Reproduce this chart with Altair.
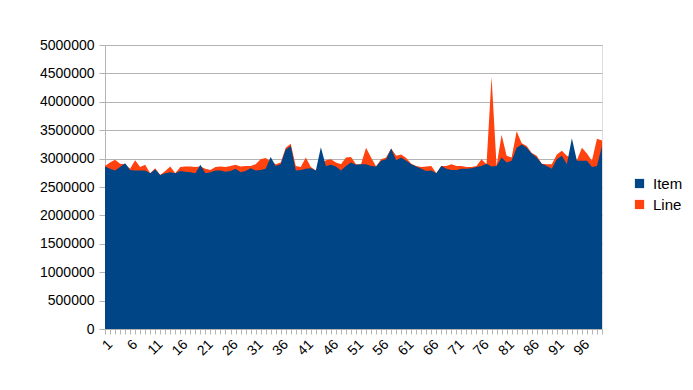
import altair as alt
import pandas as pd

categories = list(range(1, 101))

item = [2.86, 2.82, 2.79, 2.85, 2.92, 2.80, 2.79, 2.79, 2.79, 2.74,
        2.81, 2.71, 2.74, 2.76, 2.74, 2.78, 2.77, 2.76, 2.74, 2.89,
        2.74, 2.76, 2.79, 2.79, 2.77, 2.78, 2.82, 2.76, 2.78, 2.83,
        2.79, 2.80, 2.82, 3.03, 2.87, 2.90, 3.16, 3.22, 2.79, 2.80,
        2.82, 2.83, 2.79, 3.20, 2.87, 2.89, 2.86, 2.79, 2.87, 2.93,
        2.89, 2.90, 2.90, 2.87, 2.86, 2.96, 2.99, 3.18, 2.97, 3.02,
        2.96, 2.90, 2.86, 2.82, 2.78, 2.79, 2.74, 2.87, 2.82, 2.80,
        2.80, 2.82, 2.82, 2.83, 2.85, 2.87, 2.91, 2.86, 2.87, 3.02,
        2.93, 2.96, 3.19, 3.25, 3.19, 3.09, 3.02, 2.91, 2.87, 2.82,
        2.99, 3.05, 2.90, 3.36, 2.96, 2.96, 2.96, 2.85, 2.87, 3.22]

line = [2.87, 2.93, 2.98, 2.91, 2.90, 2.82, 2.97, 2.85, 2.89, 2.74,
        2.83, 2.71, 2.78, 2.86, 2.74, 2.85, 2.86, 2.86, 2.85, 2.86,
        2.82, 2.80, 2.85, 2.86, 2.85, 2.87, 2.89, 2.86, 2.87, 2.87,
        2.90, 2.99, 3.01, 2.95, 2.90, 2.93, 3.19, 3.26, 2.87, 2.85,
        3.02, 2.85, 2.79, 2.90, 2.97, 2.99, 2.93, 2.90, 3.02, 3.03,
        2.90, 2.90, 3.19, 3.02, 2.86, 2.99, 3.02, 3.18, 3.05, 3.07,
        3.01, 2.91, 2.87, 2.85, 2.86, 2.87, 2.74, 2.87, 2.87, 2.90,
        2.87, 2.87, 2.85, 2.85, 2.87, 2.99, 2.90, 4.44, 2.87, 3.42,
        3.05, 3.02, 3.48, 3.27, 3.22, 3.10, 3.05, 2.91, 2.90, 2.90,
        3.07, 3.14, 3.05, 3.00, 2.97, 3.19, 3.09, 2.96, 3.35, 3.32]

series_names = ["Item", "Line"]
series_colors = ["#004586", "#ff420e"]
y_ticks = list(range(0, 5000001, 500000))

rows = []
for c, a, b in zip(categories, item, line):
    rows.append({"cat": c, "series": "Item", "value": a * 1e6})
    rows.append({"cat": c, "series": "Line", "value": b * 1e6})
df = pd.DataFrame(rows)

FONT = "Liberation Sans"

x_enc = alt.X(
    "cat:O",
    title=None,
    scale=alt.Scale(type="point", padding=0),
    axis=alt.Axis(
        labelAngle=-45,
        labelExpr="(datum.value - 1) % 5 == 0 ? datum.label : ''",
        labelFontSize=14,
        labelColor="#000000",
        labelFont=FONT,
        tickColor="#b3b3b3",
        tickSize=5,
        domainColor="#b3b3b3",
        grid=False,
        labelPadding=3,
    ),
)
y_enc = alt.Y(
    "value:Q",
    title=None,
    stack=None,
    scale=alt.Scale(domain=[0, 5000000], nice=False),
    axis=alt.Axis(
        values=y_ticks,
        format="d",
        labelFontSize=14,
        labelColor="#000000",
        labelFont=FONT,
        tickColor="#b3b3b3",
        tickSize=6,
        domainColor="#b3b3b3",
        gridColor="#b3b3b3",
        labelPadding=5,
    ),
)
color_enc = alt.Color(
    "series:N",
    title=None,
    scale=alt.Scale(domain=series_names, range=series_colors),
    legend=alt.Legend(
        orient="none",
        legendX=527,
        legendY=131,
        symbolType="square",
        symbolSize=85,
        symbolStrokeWidth=0,
        labelFontSize=15,
        labelFont=FONT,
        labelColor="#000000",
        labelOffset=6,
        rowPadding=5,
    ),
)

base = alt.Chart(df)
line_layer = base.transform_filter(alt.datum.series == "Line").mark_area(opacity=1, interpolate="linear").encode(
    x=x_enc, y=y_enc, color=color_enc
)
item_layer = base.transform_filter(alt.datum.series == "Item").mark_area(opacity=1, interpolate="linear").encode(
    x=x_enc, y=y_enc, color=color_enc
)

chart = alt.layer(line_layer, item_layer).properties(
    width=497,
    height=284,
    autosize=alt.AutoSizeParams(type="none"),
    padding={"left": 97, "top": 37, "right": 83, "bottom": 53},
).configure_view(stroke="#b3b3b3").configure(background="white")

chart.save("out.html", embed_options={"renderer": "svg", "actions": False})
